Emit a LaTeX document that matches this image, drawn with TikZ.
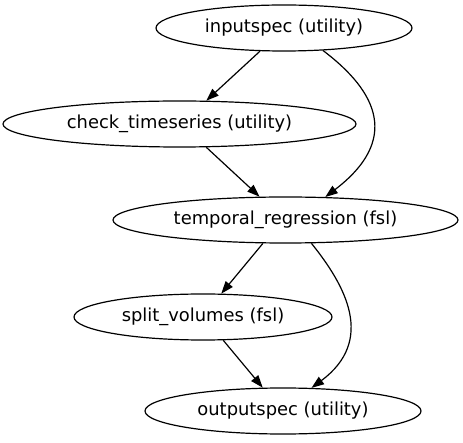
\documentclass[tikz,border=0pt]{standalone}
\usepackage{fontspec}
\setmainfont{DejaVu Sans}
\usetikzlibrary{shapes.geometric,arrows.meta}
\begin{document}
\begin{tikzpicture}[x=1pt,y=-1pt,
  proc/.style={draw, ellipse, line width=1.2pt, inner sep=0pt,
    minimum height=46pt, font=\fontsize{17.9}{20}\selectfont},
  flow/.style={line width=1.2pt, -{Triangle[length=12.5pt,width=9pt]}}]
  \useasboundingbox (0,0) rectangle (463,443);

  \node[proc, minimum width=256pt] (in)    at (284,28)    {inputspec (utility)};
  \node[proc, minimum width=353pt] (check) at (179.5,124) {check\_timeseries (utility)};
  \node[proc, minimum width=345pt] (treg)  at (285.5,220) {temporal\_regression (fsl)};
  \node[proc, minimum width=258pt] (split) at (203,317)   {split\_volumes (fsl)};
  \node[proc, minimum width=276pt] (out)   at (283,411)   {outputspec (utility)};

  \draw[flow] (in.224) -- (check.41);
  \draw[flow] (in.330) .. controls (378,92) and (400,140) .. (treg.30);
  \draw[flow] (check.319) -- (treg.138);
  \draw[flow] (treg.226) -- (split.52);
  \draw[flow] (treg.318) .. controls (345,285) and (376,340) .. (out.39);
  \draw[flow] (split.311) -- (out.131);
\end{tikzpicture}
\end{document}
